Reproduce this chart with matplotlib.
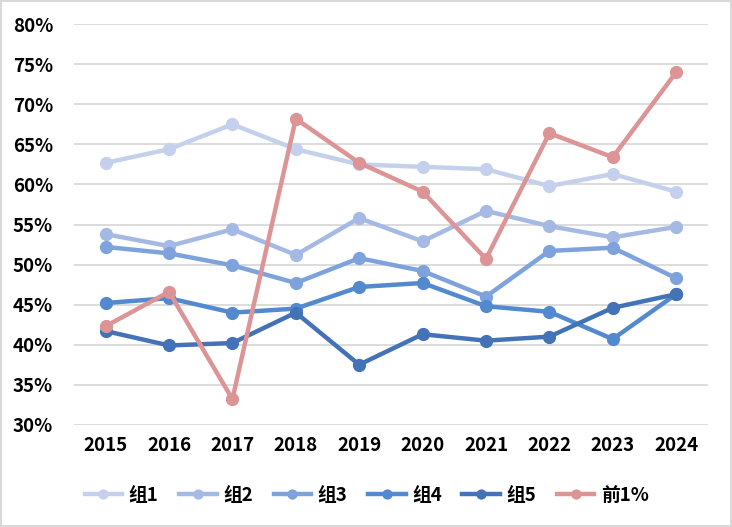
import matplotlib
matplotlib.use('Agg')
import matplotlib.pyplot as plt
from matplotlib.ticker import FuncFormatter

plt.rcParams['font.family'] = ['Noto Sans CJK SC', 'DejaVu Sans']
plt.rcParams['font.weight'] = 'bold'

years = ['2015', '2016', '2017', '2018', '2019', '2020', '2021', '2022', '2023', '2024']
g1 = [62.7, 64.4, 67.5, 64.4, 62.5, 62.2, 61.9, 59.8, 61.3, 59.1]
g2 = [53.8, 52.3, 54.4, 51.2, 55.8, 52.9, 56.7, 54.8, 53.4, 54.7]
g3 = [52.2, 51.4, 49.9, 47.7, 50.8, 49.2, 46.0, 51.7, 52.1, 48.3]
g4 = [45.2, 45.8, 44.0, 44.5, 47.2, 47.7, 44.8, 44.1, 40.7, 46.3]
g5 = [41.7, 39.9, 40.2, 44.0, 37.5, 41.3, 40.5, 41.0, 44.6, 46.3]
top1 = [42.3, 46.6, 33.2, 68.2, 62.7, 59.1, 50.7, 66.4, 63.4, 74.0]

names = ['组1', '组2', '组3', '组4', '组5', '前1%']
series = [g1, g2, g3, g4, g5, top1]
colors = ['#C5D1EC', '#A4B9E4', '#7DA2DC', '#5289CF', '#4472B6', '#DC9495']

fig = plt.figure(figsize=(7.32, 5.27), dpi=100)
ax = fig.add_axes([0.101, 0.194, 0.866, 0.76])
x = list(range(len(years)))
for name, vals, c in zip(names, series, colors):
    ax.plot(x, vals, '-o', color=c, lw=3.2, ms=8.5, label=name)

ax.set_xlim(-0.5, 9.5)
ax.set_ylim(30, 80)
ax.set_yticks(range(30, 81, 5))
ax.yaxis.set_major_formatter(FuncFormatter(lambda v, p: '%d%%' % v))
ax.set_xticks(x)
ax.set_xticklabels(years)
ax.grid(axis='y', color='#D9D9D9', lw=1.3)
ax.set_axisbelow(True)
for s in ax.spines.values():
    s.set_visible(False)
ax.tick_params(length=0, labelsize=13.5, pad=8)
ax.tick_params(axis='y', pad=15)

ax.legend(loc='upper center', bbox_to_anchor=(0.462, -0.11), ncol=6, frameon=False,
          fontsize=13.5, handlelength=2.0, columnspacing=1.1, handletextpad=0.35,
          markerscale=0.75)

fig.patches.append(plt.Rectangle((0.001, 0.001), 0.997, 0.997, transform=fig.transFigure,
                                 fill=False, edgecolor='#D9D9D9', lw=1.5))
fig.savefig('out.png', dpi=100)
